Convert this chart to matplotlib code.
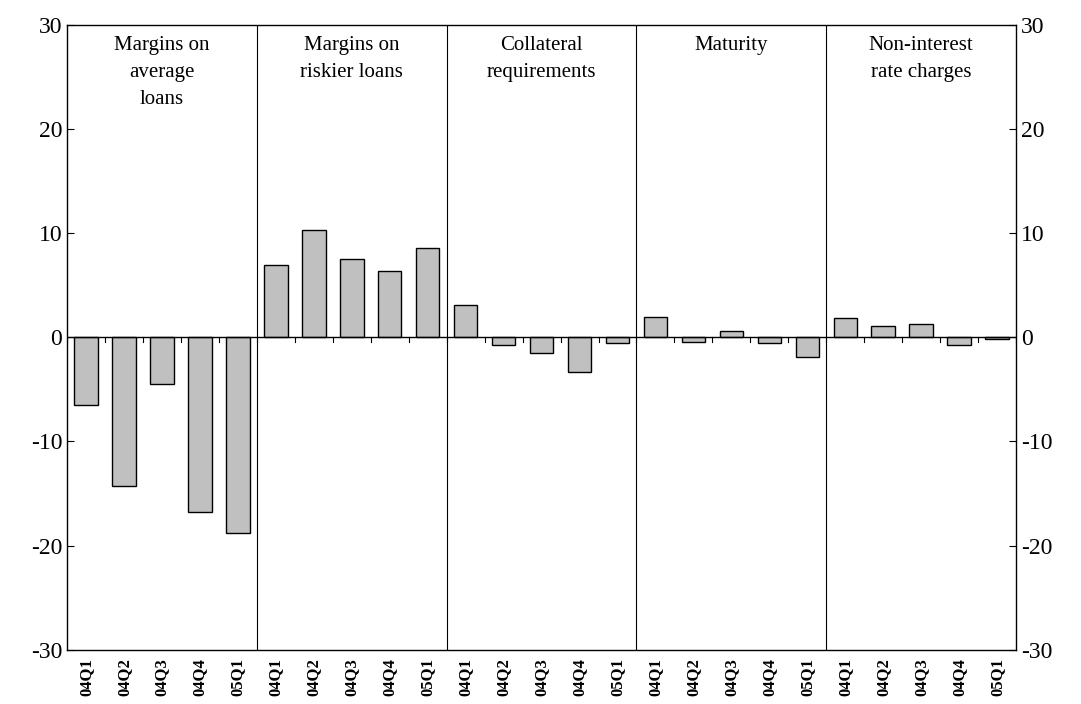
import numpy as np
import matplotlib.pyplot as plt

plt.rcParams['font.family'] = ['Liberation Serif', 'DejaVu Serif']
plt.rcParams['axes.unicode_minus'] = False

quarters = ['04Q1', '04Q2', '04Q3', '04Q4', '05Q1']
groups = ['Margins on\naverage\nloans', 'Margins on\nriskier loans',
          'Collateral\nrequirements', 'Maturity', 'Non-interest\nrate charges']
margins_avg = [-6.5, -14.3, -4.5, -16.8, -18.8]
margins_risk = [6.9, 10.3, 7.5, 6.4, 8.6]
collateral = [3.1, -0.7, -1.5, -3.3, -0.6]
maturity = [1.9, -0.5, 0.6, -0.6, -1.9]
non_interest = [1.8, 1.1, 1.3, -0.7, -0.2]

values = margins_avg + margins_risk + collateral + maturity + non_interest
labels = quarters * len(groups)
x = np.arange(len(values))

fig = plt.figure(figsize=(10.81, 7.04), dpi=100)
ax = fig.add_axes([0.062, 0.077, 0.878, 0.888])
ax.bar(x, values, width=0.62, color='#c0c0c0', edgecolor='black', linewidth=1)
ax.set_xlim(-0.5, len(values) - 0.5)
ax.set_ylim(-30, 30)
ax.axhline(0, color='black', linewidth=1)
for i in range(len(values) + 1):
    ax.plot([i - 0.5, i - 0.5], [0, -0.5], color='black', linewidth=0.8)
for g in range(1, len(groups)):
    ax.axvline(g * 5 - 0.5, color='black', linewidth=0.8)
for g, name in enumerate(groups):
    ax.text(g * 5 + 2, 28.9, name, ha='center', va='top', fontsize=15,
            linespacing=1.55)

ax.set_yticks(range(-30, 31, 10))
ax.tick_params(axis='y', labelsize=17, direction='in', right=True, labelright=True, length=5)
ax.set_xticks(x)
ax.set_xticklabels(labels, rotation=90, fontweight='bold', fontsize=12)
ax.tick_params(axis='x', length=0, pad=6)
for s in ax.spines.values():
    s.set_linewidth(1)

fig.savefig('out.png', dpi=100)
